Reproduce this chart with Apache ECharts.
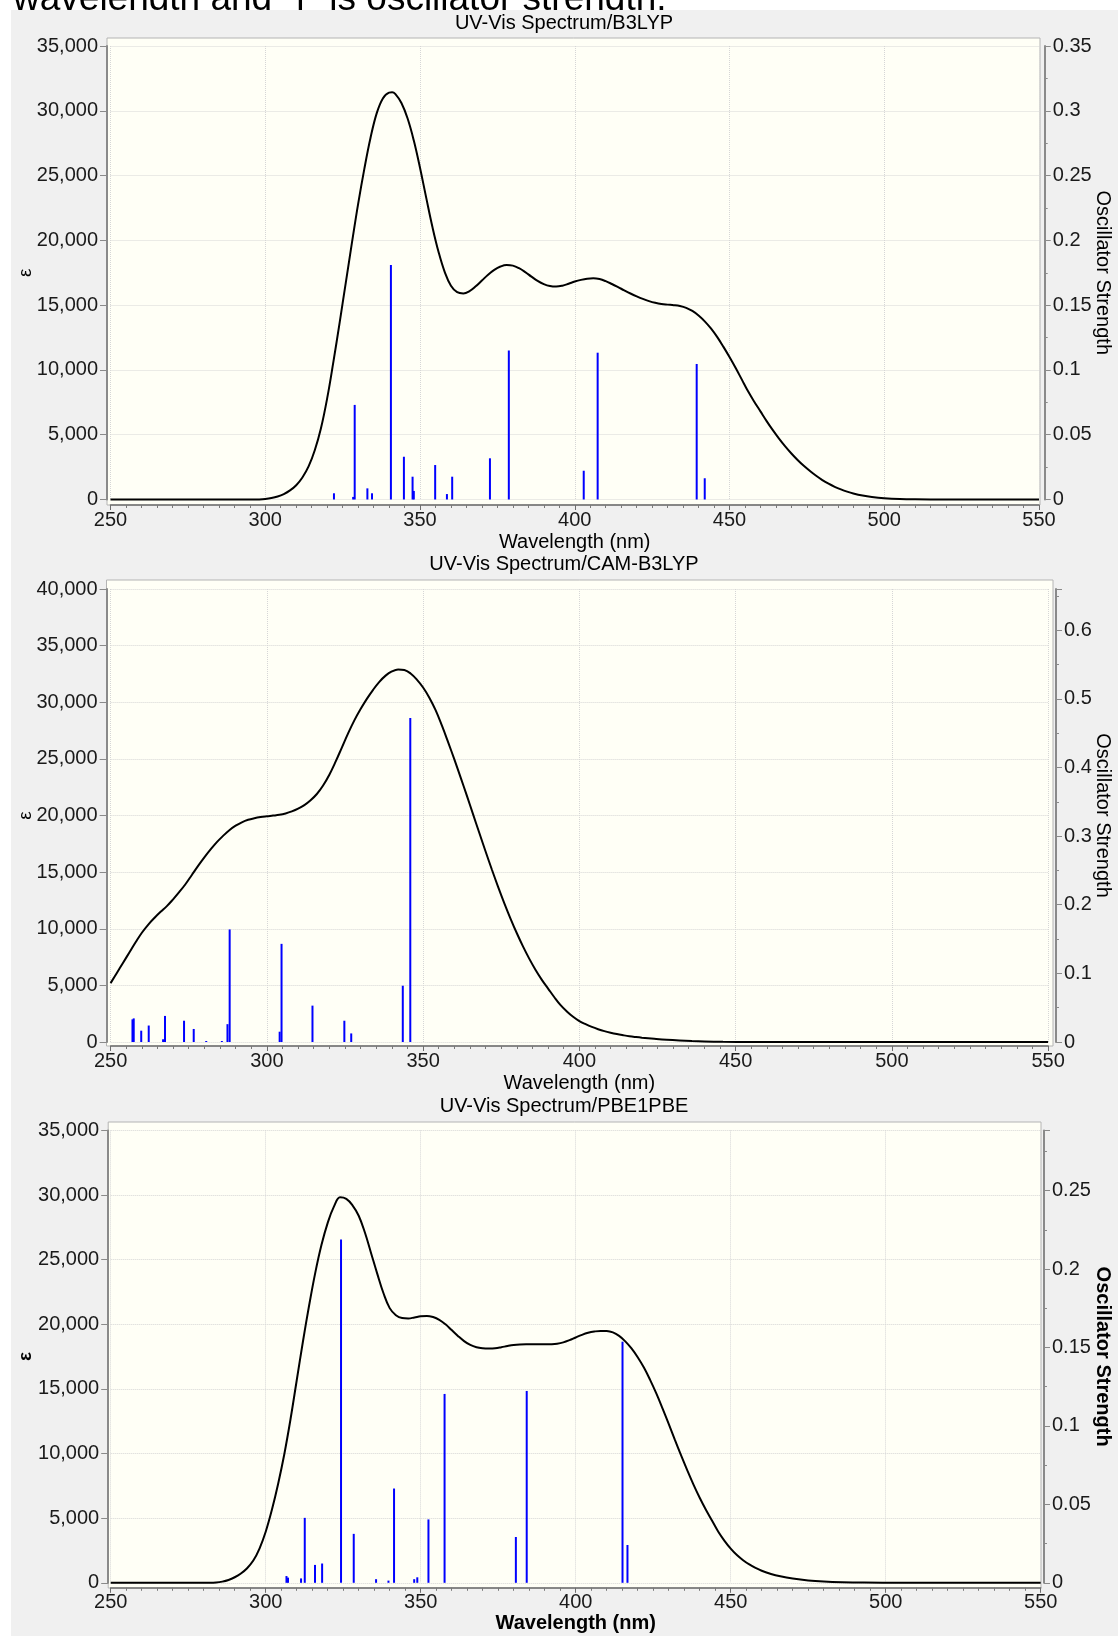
<!DOCTYPE html>
<html>
<head>
<meta charset="utf-8">
<script src="https://cdn.jsdelivr.net/npm/echarts@6/dist/echarts.min.js"></script>
<style>
  html, body { margin: 0; padding: 0; background: #fff; }
  #chart { width: 1118px; height: 1636px; }
</style>
</head>
<body>
<div id="chart"></div>
<script>
// axis ranges: [min, max, interval]
var wlAxis = [250, 550, 50];
var epsAxisB3lyp = [0, 35000, 5000];
var epsAxisCam = [0, 40000, 5000];
var epsAxisPbe = [0, 35000, 5000];
var fAxisB3lyp = [0, 0.35, 0.05];
var fAxisCam = [0, 0.66, 0.1];
var fAxisPbe = [0, 0.2884, 0.05];

// B3LYP broadened spectrum
var b3lypWl = [250, 296, 298, 300, 302, 304, 306, 308, 310, 312, 314, 316, 318, 320, 322, 324, 326, 328, 330, 332, 334, 336, 338, 340, 341, 342, 344, 346, 348, 350, 352, 354, 356, 358, 360, 362, 364, 366, 368, 370, 372, 374, 376, 378, 380, 382, 384, 386, 388, 390, 392, 394, 396, 398, 400, 402, 404, 406, 408, 410, 412, 414, 416, 418, 420, 422, 424, 426, 428, 430, 432, 434, 436, 438, 440, 442, 444, 446, 448, 450, 452, 454, 456, 458, 460, 462, 464, 466, 468, 470, 472, 474, 476, 478, 480, 482, 484, 486, 488, 490, 493, 496, 500, 505, 510, 520, 530, 550];
var b3lypEps = [0, 0, 8, 40, 110, 230, 420, 700, 1100, 1700, 2550, 3800, 5500, 7800, 10600, 13600, 16700, 19800, 22800, 25500, 27900, 29800, 30950, 31400, 31430, 31300, 30600, 29400, 27700, 25600, 23300, 21050, 19100, 17550, 16500, 16000, 15900, 16080, 16450, 16900, 17350, 17720, 17980, 18100, 18050, 17850, 17550, 17200, 16870, 16620, 16470, 16430, 16500, 16650, 16820, 16950, 17040, 17070, 17010, 16850, 16630, 16390, 16140, 15900, 15680, 15480, 15310, 15180, 15090, 15040, 15000, 14930, 14790, 14550, 14200, 13750, 13200, 12550, 11800, 11000, 10150, 9250, 8350, 7550, 6800, 6050, 5350, 4700, 4100, 3550, 3050, 2600, 2200, 1830, 1500, 1220, 980, 780, 610, 470, 310, 200, 105, 40, 15, 2, 0, 0];
var b3lypStickWl = [322.2, 328.4, 328.9, 333.0, 334.5, 340.6, 344.8, 347.6, 348.0, 354.9, 358.7, 360.4, 372.6, 378.7, 402.9, 407.4, 439.4, 442.0];
var b3lypStickF = [0.0048, 0.002, 0.073, 0.0086, 0.0048, 0.181, 0.033, 0.0176, 0.0066, 0.0266, 0.0042, 0.0176, 0.0318, 0.115, 0.0222, 0.1133, 0.1046, 0.0164];

// CAM-B3LYP
var camWl = [250, 252, 254, 256, 258, 260, 262, 264, 266, 268, 270, 272, 274, 276, 278, 280, 282, 284, 286, 288, 290, 292, 294, 296, 298, 300, 302, 304, 306, 308, 310, 312, 314, 316, 318, 320, 322, 324, 326, 328, 330, 332, 334, 336, 338, 340, 342, 344, 346, 348, 350, 352, 354, 356, 358, 360, 362, 364, 366, 368, 370, 372, 374, 376, 378, 380, 382, 384, 386, 388, 390, 392, 394, 396, 398, 400, 402, 404, 406, 408, 410, 412, 414, 416, 418, 420, 424, 428, 432, 436, 440, 446, 455, 465, 550];
var camEps = [5200, 6100, 7000, 7900, 8800, 9650, 10350, 10950, 11500, 12000, 12600, 13250, 13950, 14750, 15550, 16300, 17000, 17650, 18200, 18700, 19100, 19400, 19620, 19760, 19860, 19930, 19990, 20060, 20180, 20360, 20600, 20920, 21350, 21900, 22650, 23600, 24750, 26000, 27250, 28400, 29400, 30300, 31100, 31800, 32350, 32720, 32900, 32850, 32540, 32000, 31300, 30400, 29300, 27950, 26480, 24950, 23370, 21750, 20100, 18450, 16820, 15230, 13700, 12250, 10880, 9600, 8420, 7340, 6360, 5490, 4720, 3950, 3250, 2700, 2230, 1850, 1570, 1330, 1130, 960, 820, 700, 600, 510, 440, 380, 285, 200, 135, 85, 50, 20, 5, 0, 0];
var camStickWl = [257.0, 257.4, 259.8, 262.2, 266.8, 267.4, 273.5, 276.6, 280.6, 285.6, 287.4, 288.1, 304.1, 304.7, 314.6, 324.8, 327.0, 343.5, 345.9];
var camStickF = [0.033, 0.0344, 0.0165, 0.024, 0.004, 0.038, 0.031, 0.019, 0.0015, 0.0015, 0.026, 0.164, 0.015, 0.143, 0.053, 0.031, 0.0125, 0.082, 0.472];

// PBE1PBE
var pbeWl = [250, 282, 284, 286, 288, 290, 292, 294, 296, 298, 300, 302, 304, 306, 308, 310, 312, 314, 316, 318, 320, 322, 324, 326, 328, 330, 332, 334, 336, 338, 340, 342, 344, 346, 348, 350, 352, 354, 356, 358, 360, 362, 364, 366, 368, 370, 372, 374, 376, 378, 380, 382, 384, 386, 388, 390, 392, 394, 396, 398, 400, 402, 404, 406, 408, 410, 412, 414, 416, 418, 420, 422, 424, 426, 428, 430, 432, 434, 436, 438, 440, 442, 444, 446, 448, 450, 452, 454, 456, 458, 460, 463, 466, 470, 475, 480, 486, 493, 505, 550];
var pbeEps = [0, 0, 20, 90, 220, 430, 720, 1130, 1720, 2650, 3950, 5650, 7650, 9950, 12650, 15650, 18650, 21450, 24000, 26150, 27850, 29100, 29820, 29700, 29200, 28400, 27100, 25500, 23900, 22400, 21250, 20700, 20480, 20450, 20530, 20620, 20650, 20560, 20350, 20000, 19550, 19100, 18700, 18400, 18220, 18140, 18120, 18140, 18220, 18320, 18400, 18440, 18450, 18450, 18450, 18450, 18460, 18500, 18600, 18770, 18980, 19180, 19340, 19440, 19490, 19480, 19370, 19100, 18680, 18130, 17450, 16650, 15700, 14650, 13500, 12300, 11050, 9850, 8700, 7600, 6580, 5650, 4800, 3950, 3250, 2650, 2150, 1750, 1420, 1150, 930, 680, 500, 330, 185, 100, 45, 15, 0, 0];
var pbeStickWl = [306.7, 307.2, 311.4, 312.6, 315.9, 318.2, 324.3, 328.4, 335.6, 339.6, 341.4, 347.9, 348.9, 352.5, 357.7, 380.7, 384.2, 415.1, 416.7];
var pbeStickF = [0.0043, 0.0033, 0.0028, 0.0414, 0.0114, 0.0123, 0.2188, 0.0312, 0.0023, 0.0014, 0.0601, 0.0023, 0.0035, 0.0404, 0.1204, 0.0292, 0.1223, 0.1537, 0.0241];

var FONT = 'Liberation Sans, Arial, sans-serif';
var GRIDLINE = { color: '#d6d6d6', type: 'dotted', width: 1 };
var AXISGREY = '#8a8a8a';

// page layout of the three panels
var panels = [
  { title: 'UV-Vis Spectrum/B3LYP', wl: b3lypWl, eps: b3lypEps, sWl: b3lypStickWl, sF: b3lypStickF,
    epsAxis: epsAxisB3lyp, fAxis: fAxisB3lyp, bold: false,
    grid: { left: 110.5, top: 46, width: 928.5, height: 453.5 }, frame: [107, 38, 1040, 505],
    offL: 3.5, offX: 5.5, offR: 5.7, titleTop: 13, xGap: 27, epsGap: 72, fGap: 48 },
  { title: 'UV-Vis Spectrum/CAM-B3LYP', wl: camWl, eps: camEps, sWl: camStickWl, sF: camStickF,
    epsAxis: epsAxisCam, fAxis: fAxisCam, bold: false,
    grid: { left: 110.6, top: 589, width: 937.5, height: 453 }, frame: [106.5, 580, 1053, 1046],
    offL: 4, offX: 4, offR: 7.9, titleTop: 554, xGap: 27.5, epsGap: 71.5, fGap: 37 },
  { title: 'UV-Vis Spectrum/PBE1PBE', wl: pbeWl, eps: pbeEps, sWl: pbeStickWl, sF: pbeStickF,
    epsAxis: epsAxisPbe, fAxis: fAxisPbe, bold: true,
    grid: { left: 110.7, top: 1130.4, width: 930, height: 452.4 }, frame: [108.2, 1122, 1041, 1588],
    offL: 2.5, offX: 5, offR: 3.3, titleTop: 1096.5, xGap: 25.7, epsGap: 73, fGap: 49 }
];

function commas(v) { return String(v).replace(/\B(?=(\d{3})+(?!\d))/g, ','); }

var option = {
  animation: false,
  backgroundColor: '#ffffff',
  textStyle: { fontFamily: FONT },
  title: [], grid: [], xAxis: [], yAxis: [], series: [],
  graphic: [
    { type: 'text', z: -30, style: { x: 13, y: 18, text: 'wavelength and "f" is oscillator strength.',
      font: '37px ' + FONT, fill: '#000', verticalAlign: 'bottom', textVerticalAlign: 'bottom' } },
    { type: 'rect', z: -20, shape: { x: 11, y: 10, width: 1107, height: 1626 }, style: { fill: '#f0f0f0' } }
  ]
};

panels.forEach(function (p, i) {
  var w = p.bold ? 'bold' : 'normal';
  option.title.push({ text: p.title, left: 564, top: p.titleTop, textAlign: 'center', padding: 0,
    textStyle: { fontSize: 20, fontWeight: 'normal', color: '#000', fontFamily: FONT } });
  option.grid.push({ left: p.grid.left, top: p.grid.top, width: p.grid.width, height: p.grid.height,
    outerBoundsMode: 'none', containLabel: false });
  option.graphic.push({ type: 'rect', z: -10,
    shape: { x: p.frame[0], y: p.frame[1], width: p.frame[2] - p.frame[0], height: p.frame[3] - p.frame[1] },
    style: { fill: '#fffff6', stroke: '#b4b4b4', lineWidth: 1 } });

  option.xAxis.push({
    type: 'value', gridIndex: i, min: wlAxis[0], max: wlAxis[1], interval: wlAxis[2], offset: p.offX,
    axisLine: { show: true, onZero: false, lineStyle: { color: '#6e6e6e', width: 1.5 } },
    axisTick: { show: true, length: 5, lineStyle: { color: '#6e6e6e' } },
    minorTick: { show: true, splitNumber: 10, length: 3, lineStyle: { color: '#7a7a7a' } },
    axisLabel: { margin: 5, fontSize: 20, color: '#1a1a1a', fontFamily: FONT },
    splitLine: { show: true, lineStyle: GRIDLINE },
    name: 'Wavelength (nm)', nameLocation: 'middle', nameGap: p.xGap, nameMoveOverlap: false,
    nameTextStyle: { fontSize: 20, color: '#000', fontWeight: w, fontFamily: FONT }
  });
  option.yAxis.push({
    type: 'value', gridIndex: i, position: 'left', min: p.epsAxis[0], max: p.epsAxis[1], interval: p.epsAxis[2], offset: p.offL,
    axisLine: { show: true, lineStyle: { color: AXISGREY, width: 2 } },
    axisTick: { show: true, length: 7, lineStyle: { color: AXISGREY } },
    axisLabel: { margin: 9, fontSize: 20, color: '#1a1a1a', fontFamily: FONT, formatter: commas },
    splitLine: { show: true, lineStyle: GRIDLINE },
    name: 'ε', nameLocation: 'middle', nameGap: p.epsGap, nameMoveOverlap: false,
    nameTextStyle: { fontSize: 19, color: '#000', fontWeight: w, fontFamily: FONT }
  });
  option.yAxis.push({
    type: 'value', gridIndex: i, position: 'right', min: p.fAxis[0], max: p.fAxis[1], interval: p.fAxis[2], offset: p.offR,
    axisLine: { show: true, lineStyle: { color: AXISGREY, width: 2 } },
    axisTick: { show: true, length: 6, lineStyle: { color: AXISGREY } },
    minorTick: { show: true, splitNumber: 2, length: 3, lineStyle: { color: AXISGREY } },
    axisLabel: { margin: 8, fontSize: 20, color: '#1a1a1a', fontFamily: FONT,
      showMaxLabel: i === 0, formatter: function (v) { return String(+v.toFixed(3)); } },
    splitLine: { show: false },
    name: 'Oscillator Strength', nameLocation: 'middle', nameGap: p.fGap, nameRotate: -90, nameMoveOverlap: false,
    nameTextStyle: { fontSize: 20, color: '#000', fontWeight: w, fontFamily: FONT }
  });

  option.series.push({
    type: 'bar', xAxisIndex: i, yAxisIndex: 2 * i + 1, barWidth: 2, clip: false, z: 2,
    itemStyle: { color: '#0000ff' },
    data: p.sWl.map(function (x, k) { return [x, p.sF[k]]; })
  });
  option.series.push({
    type: 'line', xAxisIndex: i, yAxisIndex: 2 * i, smooth: 0.4, symbol: 'none', clip: false, z: 3,
    lineStyle: { color: '#000', width: 2 },
    data: p.wl.map(function (x, k) { return [x, p.eps[k]]; })
  });
});

var chart = echarts.init(document.getElementById('chart'), null, { renderer: 'canvas' });
chart.setOption(option);
</script>
</body>
</html>
